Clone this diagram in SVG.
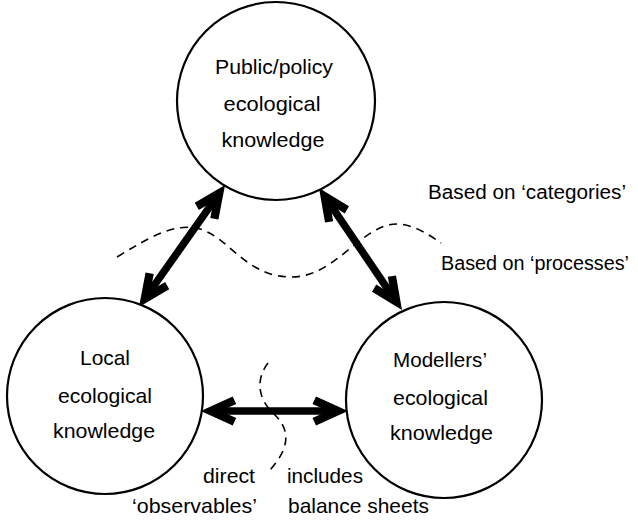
<svg xmlns="http://www.w3.org/2000/svg" width="638" height="521" viewBox="0 0 638 521">
<style>
  .node { fill: #fff; stroke: #000; stroke-width: 2.2; }
  text { font-family: "Liberation Sans", Arial, Helvetica, sans-serif; font-size: 21px; fill: #000; }
  .c { text-anchor: middle; }
  .side { font-size: 20px; }
  .arrow { stroke: #000; stroke-width: 7.5; fill: none; marker-start: url(#head); marker-end: url(#head); }
  .dash { fill: none; stroke: #000; stroke-width: 1.6; stroke-dasharray: 8 6; }
</style>
<defs>
  <marker id="head" viewBox="-40 -20 50 40" refX="-16" refY="0" markerWidth="50" markerHeight="40" markerUnits="userSpaceOnUse" orient="auto-start-reverse" overflow="visible">
    <polygon points="0,0 -32,-14.5 -35.5,-7 -20,0 -35.5,7 -32,14.5" fill="#000"/>
  </marker>
</defs>
<rect width="638" height="521" fill="#fff"/>
<g id="connectors">
  <line class="arrow" x1="215.8" y1="198.1" x2="148.2" y2="293.9"/>
  <line class="arrow" x1="328" y1="201.2" x2="393" y2="296.8"/>
  <line class="arrow" x1="216.7" y1="411" x2="332" y2="411"/>
</g>
<g id="boundaries">
  <path class="dash" d="M117,257 C150,237 175,222 200,229 C230,238 245,276 290,277 C330,278 355,236 385,226 C405,219 425,232 441,243"/>
  <path class="dash" d="M268,363 C255,380 258,400 275,415 C292,432 288,450 270,470"/>
</g>
<g id="public">
  <circle class="node" cx="276" cy="101" r="99"/>
  <text class="c" x="274" y="74" textLength="118" lengthAdjust="spacingAndGlyphs">Public/policy</text>
  <text class="c" x="272" y="111" textLength="97" lengthAdjust="spacingAndGlyphs">ecological</text>
  <text class="c" x="273" y="147" textLength="103" lengthAdjust="spacingAndGlyphs">knowledge</text>
</g>
<g id="local">
  <circle class="node" cx="105" cy="396" r="98"/>
  <text class="c" x="105" y="365" textLength="50" lengthAdjust="spacingAndGlyphs">Local</text>
  <text class="c" x="105" y="403" textLength="94" lengthAdjust="spacingAndGlyphs">ecological</text>
  <text class="c" x="104" y="438" textLength="102" lengthAdjust="spacingAndGlyphs">knowledge</text>
</g>
<g id="modellers">
  <circle class="node" cx="444" cy="400" r="98"/>
  <text class="c" x="440" y="367" textLength="94" lengthAdjust="spacingAndGlyphs">Modellers’</text>
  <text class="c" x="440.5" y="405" textLength="95" lengthAdjust="spacingAndGlyphs">ecological</text>
  <text class="c" x="441.5" y="440" textLength="103" lengthAdjust="spacingAndGlyphs">knowledge</text>
</g>
<g id="labels">
  <text class="side" x="428" y="199" textLength="198" lengthAdjust="spacingAndGlyphs">Based on ‘categories’</text>
  <text class="side" x="441" y="270" textLength="188" lengthAdjust="spacingAndGlyphs">Based on ‘processes’</text>
  <text x="203" y="483" textLength="52" lengthAdjust="spacingAndGlyphs">direct</text>
  <text x="132" y="513" textLength="125" lengthAdjust="spacingAndGlyphs">‘observables’</text>
  <text x="287" y="483" textLength="76" lengthAdjust="spacingAndGlyphs">includes</text>
  <text x="288" y="513" textLength="141" lengthAdjust="spacingAndGlyphs">balance sheets</text>
</g>
</svg>
